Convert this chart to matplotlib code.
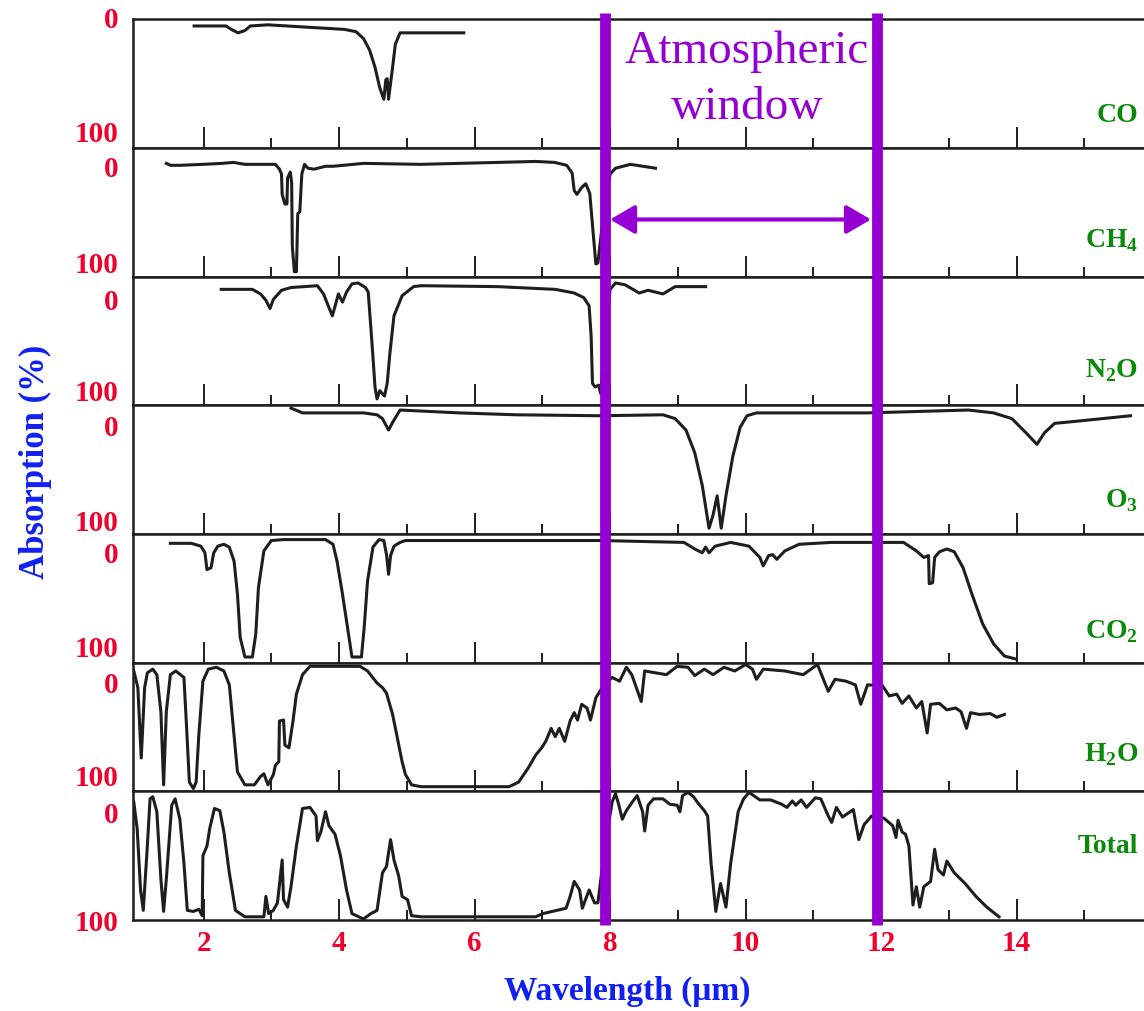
import matplotlib
matplotlib.use("Agg")
import matplotlib.pyplot as plt
import matplotlib.transforms as mtransforms
from matplotlib.lines import Line2D

plt.rcParams['font.family'] = ['Liberation Serif', 'DejaVu Serif']
plt.rcParams['mathtext.fontset'] = 'custom'
plt.rcParams['mathtext.rm'] = 'Liberation Serif'
plt.rcParams['mathtext.bf'] = 'Liberation Serif:bold'

# absorption spectra: wavelength (um) vs absorption (%)
co_wl = [1.86, 2.33, 2.41, 2.51, 2.61, 2.69, 2.95, 3.51, 4.08, 4.25, 4.36, 4.45,
         4.53, 4.60, 4.66, 4.69, 4.71, 4.73, 4.79, 4.83, 4.90, 5.21, 5.84]
co_abs = [5, 5, 8, 11, 9, 5, 4, 6, 8, 10, 16, 26,
          41, 59, 69, 52, 51, 69, 41, 21, 11, 11, 11]

ch4_wl = [1.45, 1.51, 1.65, 1.99, 2.27, 2.44, 2.61, 2.95, 3.06, 3.12,
          3.15, 3.16, 3.20, 3.23, 3.24, 3.28, 3.30, 3.31, 3.34, 3.37,
          3.39, 3.42, 3.45, 3.49, 3.54, 3.63, 3.80, 3.91, 4.36, 5.20,
          5.77, 6.34, 6.90, 7.18, 7.36, 7.44, 7.47, 7.51, 7.58, 7.64,
          7.70, 7.75, 7.79, 7.82, 7.88, 8.00, 8.08, 8.30, 8.67]
ch4_abs = [-6, -4, -4, -5, -6, -7, -5, -5, -5, 0,
           5, 26, 36, 36, 9, 3, 14, 80, 106, 106,
           46, 44, 5, -5, -1, 0, -3, -3, -6, -5,
           -6, -7, -8, -7, -4, 4, 22, 26, 19, 15,
           25, 66, 98, 97, 60, 5, -1, -5, -1]

n2o_wl = [2.26, 2.72, 2.84, 2.92, 2.98, 3.03, 3.15, 3.29, 3.68, 3.77,
          3.84, 3.90, 3.95, 3.99, 4.05, 4.11, 4.19, 4.28, 4.39, 4.43,
          4.46, 4.50, 4.53, 4.56, 4.60, 4.67, 4.71, 4.75, 4.81, 4.93,
          5.10, 5.21, 6.34, 7.19, 7.47, 7.61, 7.69, 7.72, 7.74, 7.78,
          7.83, 7.86, 7.92, 8.00, 8.08, 8.22, 8.43, 8.56, 8.78, 8.96,
          9.41]
n2o_abs = [-14, -14, -9, -2, 7, -3, -13, -16, -18, -9,
           4, 15, 2, -9, 0, -11, -20, -21, -16, -11,
           19, 60, 93, 106, 97, 103, 89, 56, 15, -7,
           -17, -18, -17, -14, -10, -5, 4, 37, 89, 93,
           91, 100, 50, -14, -21, -19, -10, -13, -9, -17,
           -17]

o3_wl = [3.29, 3.46, 4.36, 4.56, 4.64, 4.73, 4.79, 4.90, 5.77, 6.62,
         7.85, 8.78, 8.96, 9.12, 9.25, 9.36, 9.46, 9.52, 9.58, 9.64,
         9.71, 9.81, 9.92, 10.02, 10.16, 11.80, 13.29, 13.66, 13.93, 14.14,
         14.30, 14.41, 14.56, 14.99, 15.68]
o3_abs = [-21, -16, -16, -14, -10, 2, -6, -19, -16, -14,
          -13, -14, -10, 2, 26, 60, 105, 91, 71, 105,
          71, 30, -1, -13, -16, -16, -19, -16, -10, 5,
          17, 5, -5, -8, -13]

co2_wl = [1.51, 1.82, 1.96, 2.02, 2.05, 2.11, 2.15, 2.21, 2.30, 2.38,
          2.45, 2.50, 2.54, 2.61, 2.72, 2.77, 2.81, 2.89, 3.00, 3.18,
          3.80, 3.91, 3.97, 4.05, 4.14, 4.19, 4.33, 4.37, 4.42, 4.50,
          4.59, 4.66, 4.70, 4.73, 4.76, 4.81, 4.90, 4.98, 7.85, 9.09,
          9.25, 9.36, 9.41, 9.46, 9.55, 9.78, 10.05, 10.21, 10.26, 10.34,
          10.40, 10.46, 10.58, 10.79, 11.27, 12.33, 12.52, 12.63, 12.70, 12.71,
          12.76, 12.79, 12.86, 12.97, 13.08, 13.21, 13.34, 13.50, 13.66, 13.82,
          13.98]
co2_abs = [-13, -13, -10, -3, 15, 13, -3, -10, -12, -9,
           6, 41, 87, 108, 108, 84, 34, -5, -16, -17,
           -17, -12, 6, 41, 84, 108, 108, 77, 27, -9,
           -17, -16, -1, 20, 0, -10, -14, -16, -16, -14,
           -7, -3, -9, -3, -10, -14, -10, 2, 11, 0,
           -1, 4, -5, -12, -14, -14, -5, 2, 0, 30,
           29, 2, -4, -7, -4, 13, 41, 73, 94, 107,
           110]

h2o_wl = [0.97, 1.03, 1.08, 1.13, 1.17, 1.25, 1.31, 1.37, 1.41, 1.45,
          1.51, 1.59, 1.71, 1.75, 1.79, 1.85, 1.89, 1.93, 1.99, 2.07,
          2.19, 2.30, 2.38, 2.44, 2.50, 2.61, 2.75, 2.84, 2.89, 2.95,
          3.03, 3.06, 3.11, 3.12, 3.18, 3.20, 3.26, 3.32, 3.37, 3.46,
          3.57, 4.31, 4.42, 4.56, 4.64, 4.70, 4.79, 4.87, 4.93, 4.98,
          5.07, 5.21, 6.51, 6.65, 6.79, 6.90, 6.99, 7.05, 7.13, 7.19,
          7.25, 7.33, 7.41, 7.47, 7.52, 7.58, 7.66, 7.71, 7.79, 7.90,
          8.03, 8.14, 8.24, 8.32, 8.46, 8.51, 8.67, 8.83, 8.99, 9.15,
          9.25, 9.39, 9.52, 9.68, 9.84, 10.00, 10.10, 10.16, 10.26, 10.58,
          10.85, 11.06, 11.22, 11.32, 11.48, 11.62, 11.70, 11.80, 12.02, 12.12,
          12.23, 12.31, 12.41, 12.52, 12.60, 12.68, 12.73, 12.86, 12.97, 13.10,
          13.18, 13.26, 13.32, 13.45, 13.61, 13.71, 13.82]
h2o_abs = [-16, 2, 78, 2, -14, -18, -12, 28, 107, 28,
           -12, -16, -9, 46, 104, 111, 104, 53, -5, -18,
           -20, -16, -1, 46, 93, 107, 107, 98, 95, 107,
           96, 86, 82, 38, 37, 64, 67, 38, 9, -12,
           -21, -21, -16, -3, 2, 8, 31, 60, 82, 96,
           107, 109, 109, 104, 89, 75, 67, 60, 46, 55,
           46, 60, 38, 29, 37, 20, 24, 37, 13, 0,
           -9, -5, -20, -12, 17, -16, -14, -12, -21, -20,
           -11, -18, -12, -20, -16, -23, -18, -7, -18, -16,
           -12, -23, 6, -7, -5, -1, 20, -1, 0, 11,
           9, 19, 11, 24, 17, 51, 20, 19, 26, 24,
           28, 46, 29, 31, 30, 34, 31]

total_wl = [0.97, 1.02, 1.07, 1.11, 1.17, 1.21, 1.25, 1.31, 1.37, 1.41,
            1.45, 1.53, 1.58, 1.65, 1.71, 1.76, 1.85, 1.93, 1.98, 1.99,
            2.05, 2.09, 2.16, 2.24, 2.30, 2.38, 2.47, 2.61, 2.89, 2.92,
            2.96, 3.03, 3.09, 3.16, 3.18, 3.24, 3.29, 3.37, 3.46, 3.57,
            3.66, 3.68, 3.73, 3.80, 3.85, 3.94, 4.02, 4.11, 4.19, 4.36,
            4.47, 4.56, 4.64, 4.70, 4.76, 4.81, 4.88, 4.93, 5.01, 5.07,
            5.21, 6.90, 7.01, 7.35, 7.41, 7.47, 7.55, 7.59, 7.69, 7.77,
            7.82, 7.92, 8.03, 8.08, 8.13, 8.18, 8.24, 8.35, 8.40, 8.48,
            8.51, 8.56, 8.64, 8.78, 8.88, 8.99, 9.03, 9.07, 9.15, 9.23,
            9.31, 9.39, 9.44, 9.49, 9.56, 9.63, 9.71, 9.78, 9.89, 9.97,
            10.05, 10.21, 10.37, 10.53, 10.61, 10.69, 10.74, 10.82, 10.90, 11.03,
            11.11, 11.22, 11.27, 11.34, 11.43, 11.59, 11.67, 11.75, 11.86, 12.04,
            12.17, 12.22, 12.25, 12.31, 12.36, 12.41, 12.47, 12.52, 12.57, 12.63,
            12.73, 12.79, 12.84, 12.92, 12.97, 13.08, 13.24, 13.40, 13.56, 13.74]
total_abs = [-13, 12, 69, 88, 28, -16, -18, -4, 59, 89,
             59, -10, -16, 3, 44, 88, 89, 87, 93, 37,
             28, 12, -7, -5, 15, 53, 88, 94, 94, 75,
             91, 88, 81, 41, 78, 85, 66, 28, -7, -8,
             0, 23, 15, -4, 9, 17, 37, 69, 91, 96,
             91, 88, 53, 47, 22, 41, 56, 75, 78, 93,
             94, 94, 91, 86, 75, 61, 69, 86, 69, 81,
             81, 30, -13, -21, -10, 3, -5, -15, -19, -4,
             14, -10, -16, -16, -11, -10, -4, -19, -22, -18,
             -11, -5, 0, 44, 89, 63, 85, 44, -4, -16,
             -22, -15, -15, -11, -8, -14, -10, -15, -8, -17,
             -16, 0, 6, -8, 1, -6, 22, 8, 0, 2,
             9, 20, 4, 15, 17, 28, 83, 66, 85, 66,
             61, 31, 50, 55, 42, 53, 63, 75, 85, 94]

gas_labels = ['CO', r'CH$_\mathbf{4}$', r'N$_\mathbf{2}$O', r'O$_\mathbf{3}$',
              r'CO$_\mathbf{2}$', r'H$_\mathbf{2}$O', 'Total']
spectra = [(co_wl, co_abs), (ch4_wl, ch4_abs), (n2o_wl, n2o_abs), (o3_wl, o3_abs),
           (co2_wl, co2_abs), (h2o_wl, h2o_abs), (total_wl, total_abs)]
window_edges = [7.93, 11.94]

# per-panel y range (bottom, top) so the 0/100 marks sit where the scan has them
panel_ylims = [(111.5, -0.9), (111, -22), (113, -28), (111, -24),
               (114, -23), (114, -25), (97, -23)]
label_y = [0.879, 0.755, 0.627, 0.498, 0.369, 0.247, 0.156]

RED = '#f0002c'
GREEN = '#0a8a0a'
BLUE = '#1020f0'
PURPLE = '#9400d3'
INK = '#1e1e1e'

fig = plt.figure(figsize=(11.44, 10.11), dpi=100)
gs = fig.add_gridspec(7, 1, left=0.1163, right=1.0, top=0.981, bottom=0.09, hspace=0)
axes = []
for i in range(7):
    ax = fig.add_subplot(gs[i])
    wl, ab = spectra[i]
    ax.plot(wl, ab, color=INK, lw=2.2, solid_joinstyle='round')
    ax.set_xlim(0.959, 15.88)
    ax.set_ylim(*panel_ylims[i])
    ax.set_yticks([])
    ax.set_xticks(range(2, 16, 2))
    ax.set_xticks(range(3, 16, 2), minor=True)
    ax.tick_params(axis='x', which='major', direction='in', length=15, width=1.4, color=INK)
    ax.tick_params(axis='x', which='minor', direction='in', length=7, width=1.4, color=INK)
    ax.tick_params(axis='x', labelbottom=(i == 6), labelsize=21, labelcolor=RED, pad=7)
    ax.spines['right'].set_visible(False)
    for s in ['left', 'top', 'bottom']:
        ax.spines[s].set_linewidth(1.8)
        ax.spines[s].set_color(INK)
    ytr = ax.get_yaxis_transform()
    for v in (0, 100):
        ax.text(-0.014, v, str(v), transform=ytr, ha='right', va='center',
                fontsize=21, fontweight='bold', color=RED, clip_on=False)
    fig.text(0.995, label_y[i], gas_labels[i], ha='right', va='baseline',
             fontsize=20, fontweight='bold', color=GREEN)
    axes.append(ax)

for lab in axes[-1].get_xticklabels():
    lab.set_fontweight('bold')

# window boundaries across all panels
blend = mtransforms.blended_transform_factory(axes[-1].transData, fig.transFigure)
for x in window_edges:
    fig.add_artist(Line2D([x, x], [1 - 13 / 1011, 1 - 925 / 1011], transform=blend,
                          color=PURPLE, lw=7.8, solid_capstyle='butt'))

axes[1].annotate('', xy=(8.0, 52), xytext=(11.85, 52),
                 arrowprops=dict(arrowstyle='<|-|>,head_length=0.6,head_width=0.35',
                                 color=PURPLE, lw=3, shrinkA=0, shrinkB=0,
                                 mutation_scale=25))

fig.text(0.653, 0.921, 'Atmospheric\nwindow', ha='center', va='center',
         fontsize=34, color=PURPLE, linespacing=1.4)

fig.text(0.0306, 0.543, 'Absorption (%)', rotation=90, ha='center', va='center',
         fontsize=25, fontweight='bold', color=BLUE)
fig.text(0.548, 0.019, 'Wavelength (\u03bcm)', ha='center', va='center',
         fontsize=24, fontweight='bold', color=BLUE)

fig.savefig('out.png', dpi=100)
